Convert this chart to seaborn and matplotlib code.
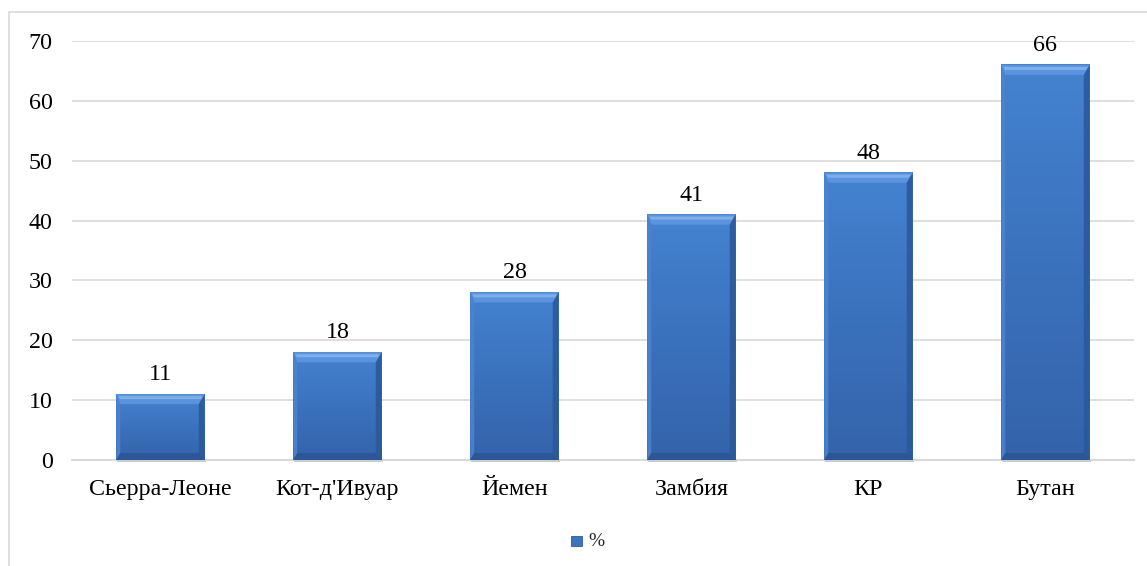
import matplotlib
matplotlib.use("Agg")
import matplotlib.pyplot as plt
from matplotlib.patches import Rectangle, Polygon
import numpy as np
import seaborn as sns
import pandas as pd

countries = ["Сьерра-Леоне", "Кот-д'Ивуар", "Йемен", "Замбия", "КР", "Бутан"]
values = [11, 18, 28, 41, 48, 66]
y_ticks = [0, 10, 20, 30, 40, 50, 60, 70]
series_name = "%"

sns.set_theme(style="white")
plt.rcParams["font.family"] = ["Liberation Serif", "DejaVu Serif"]

W, H = 1147, 566
FS = 17.3
fig = plt.figure(figsize=(W / 100, H / 100), dpi=100)
ax = fig.add_axes([72 / W, 1 - 460 / H, (1134 - 72) / W, (460 - 41) / H])

df = pd.DataFrame({"country": countries, "value": values})
base = "#3b74c0"
sns.barplot(data=df, x="country", y="value", color=base, saturation=1,
            width=0.5, ax=ax, zorder=3, edgecolor="none")

ax.set_ylim(0, 70)
ax.set_yticks(y_ticks)
ax.set_xlabel("")
ax.set_ylabel("")
ax.tick_params(axis="both", length=0, labelsize=FS, colors="black")
ax.tick_params(axis="x", pad=14)
ax.tick_params(axis="y", pad=14)
ax.grid(axis="y", color="#d9d9d9", lw=1.2, zorder=0)
for s in ["top", "right", "left"]:
    ax.spines[s].set_visible(False)
ax.spines["bottom"].set_color("#d9d9d9")
ax.spines["bottom"].set_linewidth(1.5)
ax.spines["bottom"].set_zorder(1)

xl = ax.get_xlim()
ax.set_xlim(xl)
px_x = (xl[1] - xl[0]) / ax.bbox.width
px_y = 70 / ax.bbox.height

# bevelled, gradient-filled look on every bar, built from each bar's own geometry
grad = np.linspace(0, 1, 64).reshape(-1, 1)
body_cmap = matplotlib.colors.LinearSegmentedColormap.from_list(
    "body", ["#3463aa", "#3b72bd", "#4482d0"])
for p, v in zip(ax.patches[:len(values)], values):
    x0, y0 = p.get_x(), p.get_y()
    w, h = p.get_width(), p.get_height()
    x1, y1 = x0 + w, y0 + h
    # soft shadow under the bar
    ax.add_patch(Rectangle((x0 + 1 * px_x, y0 - 2 * px_y), w, 2 * px_y,
                           facecolor="#cccccc", edgecolor="none", zorder=2,
                           clip_on=False))
    ax.imshow(grad, extent=(x0, x1, y0, y1), origin="lower", cmap=body_cmap,
              aspect="auto", zorder=3.5, interpolation="bilinear")
    t, r, b, l = 10 * px_y, 6 * px_x, 7 * px_y, 4 * px_x
    ix0, ix1, iy0, iy1 = x0 + l, x1 - r, y0 + b, y1 - t
    faces = [
        ([(x0, y1), (x1, y1), (ix1, iy1), (ix0, iy1)], "#5e97e0"),  # top
        ([(x0, y0), (x0, y1), (ix0, iy1), (ix0, iy0)], "#4a83cf"),  # left
        ([(x1, y0), (x1, y1), (ix1, iy1), (ix1, iy0)], "#2b599b"),  # right
        ([(x0, y0), (x1, y0), (ix1, iy0), (ix0, iy0)], "#2b5697"),  # bottom
    ]
    for pts, c in faces:
        ax.add_patch(Polygon(pts, closed=True, facecolor=c, edgecolor="none",
                             zorder=4, alpha=0.9))
    # highlight strip along the top bevel
    ax.add_patch(Polygon([(x0 + 2 * px_x, y1 - 2 * px_y), (x1 - 2 * px_x, y1 - 2 * px_y),
                          (x1 - 4 * px_x, y1 - 5 * px_y), (x0 + 4 * px_x, y1 - 5 * px_y)],
                         closed=True, facecolor="#84b6ee", edgecolor="none", zorder=4.5,
                         alpha=0.85))
    ax.text(x0 + w / 2, y1 + 14 * px_y, f"{v}", ha="center", va="baseline",
            fontsize=FS, color="black", zorder=5)

# legend
fig.patches.append(Rectangle((571 / W, 1 - 546 / H), 11 / W, 10 / H, transform=fig.transFigure,
                             facecolor=base, edgecolor="#2b5a9c", lw=0.6))
fig.text(588 / W, 1 - 542 / H, series_name, fontsize=14, va="center", ha="left")

# chart frame
fig.patches.append(Rectangle((9 / W, -0.1), 1.2, 1 - 12 / H + 0.1, transform=fig.transFigure,
                             facecolor="none", edgecolor="#d9d9d9", lw=1.2))

fig.savefig("out.png", dpi=100, facecolor="white")
